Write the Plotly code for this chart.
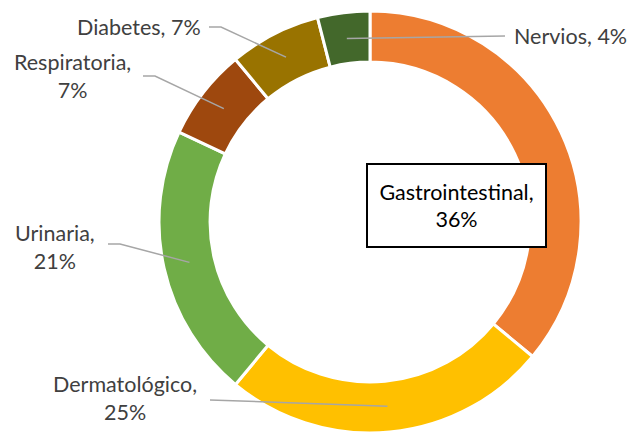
import math
import plotly.graph_objects as go

W, H = 632, 433
OFF = 0  # body margin removed by the post script below

categories = ["Gastrointestinal", "Dermatológico", "Urinaria", "Respiratoria", "Diabetes", "Nervios"]
values = [36, 25, 21, 7, 7, 4]
colors = ["#ED7D31", "#FFC000", "#70AD47", "#9E480E", "#997300", "#43682B"]

# donut placement in screen pixels
cx, cy, R = 370, 222, 211
anchor_r = 185
FS = 21.5


def px(x, y):
    return (x - OFF) / W, 1 - (y - OFF) / H


fig = go.Figure(go.Pie(
    labels=categories,
    values=values,
    marker=dict(colors=colors, line=dict(color="white", width=3)),
    hole=0.758,
    sort=False,
    direction="clockwise",
    rotation=0,
    textinfo="none",
    hoverinfo="label+percent",
    domain=dict(x=[px(cx - R, 0)[0], px(cx + R, 0)[0]],
                y=[max(0, px(0, cy + R)[1]), px(0, cy - R)[1]]),
))

# label layout: text position, anchor, elbow point for leader line
label_cfg = {
    "Dermatológico": dict(x=125, y=398, xanchor="center", elbow=[(210, 400)]),
    "Urinaria": dict(x=55, y=247, xanchor="center", elbow=[(108, 244), (120, 244)]),
    "Respiratoria": dict(x=72, y=76, xanchor="center", elbow=[(143, 76), (155, 76)]),
    "Diabetes": dict(x=203, y=27, xanchor="right", elbow=[(209, 27), (221, 27)]),
    "Nervios": dict(x=512, y=36, xanchor="left", elbow=[(505, 36)]),
}

total = sum(values)
cum = 0
shapes = []
annotations = []
for cat, v in zip(categories, values):
    mid = (cum + v / 2) / total * 2 * math.pi
    cum += v
    ax = cx + anchor_r * math.sin(mid)
    ay = cy - anchor_r * math.cos(mid)
    pct = f"{round(v / total * 100)}%"
    if cat == "Gastrointestinal":
        x0, y0 = px(456, 206)
        annotations.append(dict(
            x=x0, y=y0, xref="paper", yref="paper", showarrow=False,
            xanchor="center", yanchor="middle",
            text=f"{cat},<br>{pct}", font=dict(family="Lato", size=FS, color="black"),
            bgcolor="white", bordercolor="black", borderwidth=2, borderpad=1,
            width=175, height=79, align="center",
        ))
        continue
    cfg = label_cfg[cat]
    pts = cfg["elbow"] + [(ax, ay)]
    path = "M " + " L ".join(f"{px(a, b)[0]},{px(a, b)[1]}" for a, b in pts)
    shapes.append(dict(type="path", xref="paper", yref="paper", path=path,
                       line=dict(color="#A6A6A6", width=1.5)))
    text = f"{cat}, {pct}" if cat in ("Diabetes", "Nervios") else f"{cat},<br>{pct}"
    tx, ty = px(cfg["x"], cfg["y"])
    annotations.append(dict(
        x=tx, y=ty, xref="paper", yref="paper", showarrow=False,
        xanchor=cfg["xanchor"], yanchor="middle", align="center",
        text=text, font=dict(family="Lato", size=FS, color="#404040"),
    ))

fig.update_layout(
    width=W, height=H,
    margin=dict(l=0, r=0, t=0, b=0),
    showlegend=False,
    paper_bgcolor="white",
    plot_bgcolor="white",
    shapes=shapes,
    annotations=annotations,
)

fig.write_html("out.html", config={"displayModeBar": False},
               post_script="document.body.style.margin='0';document.body.style.overflow='hidden';")
